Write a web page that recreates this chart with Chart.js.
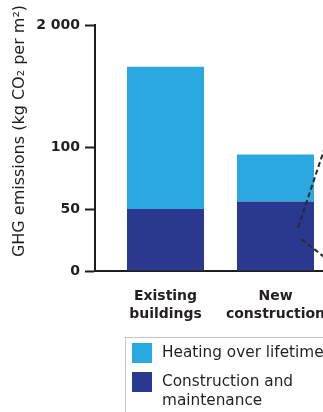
<!DOCTYPE html>
<html>
<head>
<meta charset="utf-8">
<script src="https://cdn.jsdelivr.net/npm/chart.js@4"></script>
<style>
  html, body { margin: 0; padding: 0; overflow: hidden; background: #fff; }
  #wrap { position: relative; width: 400px; height: 412px; }
  #legend {
    position: absolute; left: 125px; top: 337px; width: 260px; height: 110px;
    border: 1px solid #c4c4c4; font: 15.3px "DejaVu Sans", sans-serif; color: #231f20;
  }
  .item { position: absolute; left: 6px; }
  .sw { position: absolute; left: 0; top: 0; width: 20px; height: 20px; }
  .lbl { position: absolute; left: 30px; top: 0; line-height: 19px; white-space: nowrap; }
</style>
</head>
<body>
<div id="wrap">
  <canvas id="chart"></canvas>
  <div id="legend"></div>
</div>
<script>
// Categories and stacked series (kg CO2 per m2)
const CATEGORIES = ['Existing buildings', 'New construction'];
const CONSTRUCTION = [50, 56];
const HEATING = [1300, 38];
const SERIES_NAMES = ['Construction and maintenance', 'Heating over lifetime'];
const Y_TICKS = [0, 50, 100, 2000];
const Y_TITLE = 'GHG emissions (kg CO\u2082 per m\u00B2)';
// Dashed connector lines, endpoints in data space [x, y]
const CONNECTORS = [
  [[1.205, 35], [1.45, 100]],
  [[1.238, 25.6], [1.59, 1]]
];

const TEXT = '#231f20';
const AXIS = '#1e1e1e';
const C_DARK = '#2b388f';
const C_LIGHT = '#29a9e0';
const FONT = '"DejaVu Sans", sans-serif';

// Linear scale with a break above 100: the span 100..max is compressed
const BREAK_AT = 100;
const BREAK_TOP = 198.4; // display units reached by the scale max
class BrokenLinearScale extends Chart.LinearScale {
  static id = 'brokenLinear';
  static defaults = Chart.LinearScale.defaults;
  squash(v) {
    return v <= BREAK_AT ? v : BREAK_AT + (v - BREAK_AT) * (BREAK_TOP - BREAK_AT) / (this.max - BREAK_AT);
  }
  getPixelForValue(v) {
    if (v === null || v === undefined || isNaN(v)) return NaN;
    return this.getPixelForDecimal((this.squash(v) - this.min) / (this.squash(this.max) - this.min));
  }
  getValueForPixel(p) {
    const d = this.getDecimalForPixel(p) * (this.squash(this.max) - this.min) + this.min;
    return d <= BREAK_AT ? d : BREAK_AT + (d - BREAK_AT) * (this.max - BREAK_AT) / (BREAK_TOP - BREAK_AT);
  }
}
Chart.register(BrokenLinearScale);

const fmt = v => String(v).replace(/\B(?=(\d{3})+(?!\d))/g, ' ');

const yTitlePlugin = {
  id: 'yTitle',
  afterDraw(chart) {
    const ctx = chart.ctx;
    ctx.save();
    ctx.translate(20, 131);
    ctx.rotate(-Math.PI / 2);
    ctx.font = '16px ' + FONT;
    ctx.fillStyle = TEXT;
    ctx.textAlign = 'center';
    ctx.textBaseline = 'middle';
    ctx.fillText(Y_TITLE, 0, 0);
    ctx.restore();
  }
};

const connectorPlugin = {
  id: 'connectors',
  afterDatasetsDraw(chart) {
    const {ctx, scales: {x, y}} = chart;
    ctx.save();
    ctx.strokeStyle = '#2a2a2a';
    ctx.lineWidth = 2;
    ctx.setLineDash([5, 3]);
    CONNECTORS.forEach(([a, b]) => {
      ctx.beginPath();
      ctx.moveTo(x.getPixelForValue(a[0]), y.getPixelForValue(a[1]));
      ctx.lineTo(x.getPixelForValue(b[0]), y.getPixelForValue(b[1]));
      ctx.stroke();
    });
    ctx.restore();
  }
};

const toPoints = arr => arr.map((v, i) => ({x: i, y: v}));

const chart = new Chart(document.getElementById('chart'), {
  type: 'bar',
  data: {
    datasets: [
      { label: SERIES_NAMES[0], data: toPoints(CONSTRUCTION), backgroundColor: C_DARK, borderWidth: 0 },
      { label: SERIES_NAMES[1], data: toPoints(HEATING), backgroundColor: C_LIGHT, borderWidth: 0 }
    ]
  },
  options: {
    responsive: true,
    maintainAspectRatio: false,
    animation: false,
    layout: { padding: { top: 25, right: 0, left: 0, bottom: 0 } },
    datasets: { bar: { categoryPercentage: 0.7, barPercentage: 1 } },
    plugins: { legend: { display: false }, tooltip: { enabled: false } },
    scales: {
      x: {
        type: 'linear',
        stacked: true,
        offset: false,
        min: -0.641,
        max: 2.132,
        grid: { display: false, drawTicks: false, offset: false },
        border: { display: true, color: AXIS, width: 2 },
        afterBuildTicks: axis => { axis.ticks = CATEGORIES.map((_, i) => ({value: i})); },
        afterFit: axis => { axis.height = 141; },
        ticks: {
          padding: 16,
          color: TEXT,
          font: { family: FONT, size: 14, weight: 'bold', lineHeight: 1.3 },
          maxRotation: 0,
          autoSkip: false,
          callback: v => {
            const s = CATEGORIES[v];
            const k = s.indexOf(' ');
            return [s.slice(0, k), s.slice(k + 1)];
          }
        }
      },
      y: {
        type: 'brokenLinear',
        stacked: true,
        min: 0,
        max: 2000,
        grid: { display: true, drawOnChartArea: false, drawTicks: true, tickLength: 10, tickWidth: 2, tickColor: AXIS },
        border: { display: true, color: AXIS, width: 2 },
        afterBuildTicks: axis => { axis.ticks = Y_TICKS.map(v => ({value: v})); },
        afterFit: axis => { axis.width = 95; },
        ticks: {
          padding: 5,
          color: TEXT,
          font: { family: FONT, size: 14, weight: 'bold' },
          callback: v => fmt(v)
        }
      }
    }
  },
  plugins: [yTitlePlugin, connectorPlugin]
});

// Legend: stack order from top to bottom
const legend = document.getElementById('legend');
const tops = [5, 34];
chart.data.datasets.slice().reverse().forEach((ds, i) => {
  const item = document.createElement('div');
  item.className = 'item';
  item.style.top = tops[i] + 'px';
  const sw = document.createElement('div');
  sw.className = 'sw';
  sw.style.background = ds.backgroundColor;
  const lbl = document.createElement('div');
  lbl.className = 'lbl';
  lbl.innerHTML = ds.label === 'Construction and maintenance' ? 'Construction and<br>maintenance' : ds.label;
  item.appendChild(sw);
  item.appendChild(lbl);
  legend.appendChild(item);
});
</script>
</body>
</html>
